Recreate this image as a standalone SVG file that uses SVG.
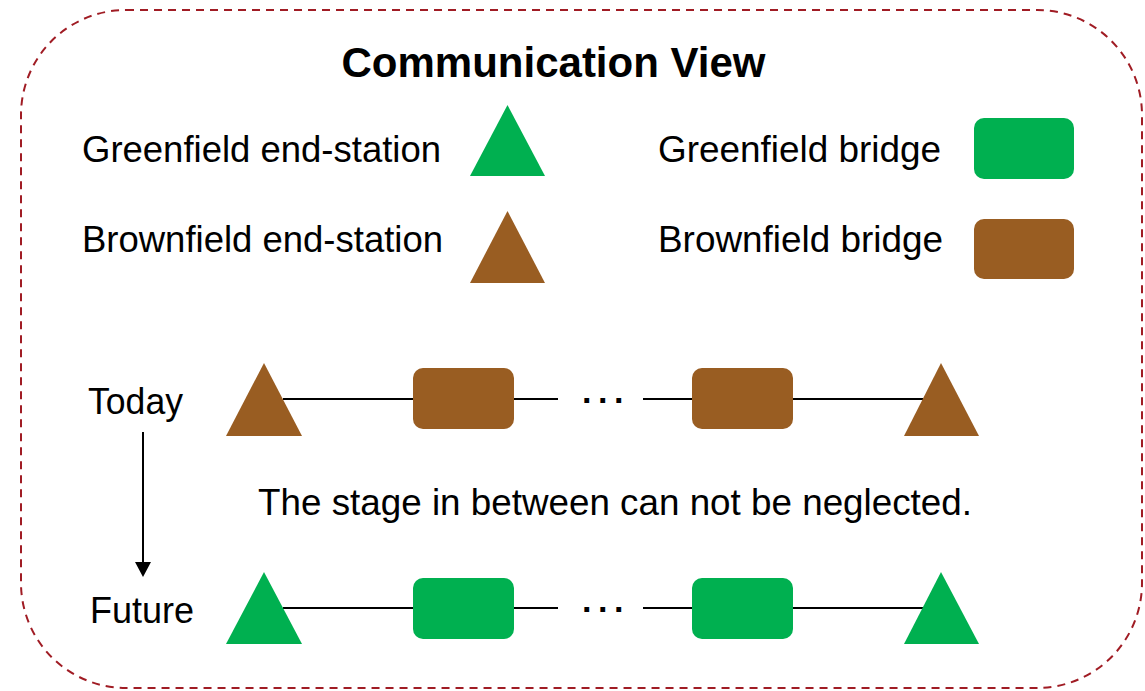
<svg xmlns="http://www.w3.org/2000/svg" width="1145" height="691" viewBox="0 0 1145 691">
  <style>
    .frame { fill: none; stroke: #A01C24; stroke-width: 2; stroke-dasharray: 8 6; }
    .label { font-family: "Liberation Sans", Arial, sans-serif; font-size: 37px; fill: #000; }
    .title { font-family: "Liberation Sans", Arial, sans-serif; font-size: 42px; font-weight: bold; fill: #000; }
    .dots { font-family: "Liberation Sans", Arial, sans-serif; font-size: 34px; font-weight: bold; fill: #000; letter-spacing: 4.7px; }
    .green { fill: #00B050; }
    .brown { fill: #995D22; }
    .link { stroke: #000; stroke-width: 2; fill: none; }
  </style>
  <defs>
    <marker id="arrowhead" markerWidth="16" markerHeight="16" refX="0" refY="0" orient="auto-start-reverse" markerUnits="userSpaceOnUse" viewBox="0 -8 16 16">
      <path d="M0,-8 L15,0 L0,8 Z" fill="#000"/>
    </marker>
  </defs>

  <rect width="1145" height="691" fill="#fff"/>

  <!-- dashed outline -->
  <rect class="frame" x="21" y="10" width="1121" height="678" rx="105" ry="105"/>

  <text class="title" x="553.5" y="77" text-anchor="middle">Communication View</text>

  <!-- legend -->
  <g id="legend-greenfield-end-station">
    <text class="label" x="82" y="162" textLength="359" lengthAdjust="spacingAndGlyphs">Greenfield end-station</text>
    <polygon class="green" points="507.5,105 470,176 545,176"/>
  </g>
  <g id="legend-brownfield-end-station">
    <text class="label" x="82" y="252" textLength="361" lengthAdjust="spacingAndGlyphs">Brownfield end-station</text>
    <polygon class="brown" points="507.5,211 470,283 545,283"/>
  </g>
  <g id="legend-greenfield-bridge">
    <text class="label" x="658" y="162" textLength="283" lengthAdjust="spacingAndGlyphs">Greenfield bridge</text>
    <rect class="green" x="974" y="118" width="100" height="61" rx="10"/>
  </g>
  <g id="legend-brownfield-bridge">
    <text class="label" x="658" y="252" textLength="285" lengthAdjust="spacingAndGlyphs">Brownfield bridge</text>
    <rect class="brown" x="974" y="219" width="100" height="60" rx="10"/>
  </g>

  <!-- connectors -->
  <g id="connectors">
    <line class="link" x1="283" y1="399" x2="413" y2="399"/>
    <line class="link" x1="514" y1="399" x2="558" y2="399"/>
    <line class="link" x1="643" y1="399" x2="692" y2="399"/>
    <line class="link" x1="793" y1="399" x2="923" y2="399"/>
    <line class="link" x1="283" y1="608" x2="413" y2="608"/>
    <line class="link" x1="514" y1="608" x2="558" y2="608"/>
    <line class="link" x1="643" y1="608" x2="692" y2="608"/>
    <line class="link" x1="793" y1="608" x2="923" y2="608"/>
    <line class="link" x1="143" y1="432" x2="143" y2="562" marker-end="url(#arrowhead)"/>
  </g>

  <!-- today row -->
  <text class="label" x="88" y="414" textLength="95" lengthAdjust="spacingAndGlyphs">Today</text>
  <g id="today-end-station-left"><polygon class="brown" points="264,363 226,436 302,436"/></g>
  <g id="today-bridge-1"><rect class="brown" x="413" y="368" width="101" height="61" rx="10"/></g>
  <text class="dots" x="582" y="412">···</text>
  <g id="today-bridge-2"><rect class="brown" x="692" y="368" width="101" height="61" rx="10"/></g>
  <g id="today-end-station-right"><polygon class="brown" points="941,363 904,436 979,436"/></g>

  <text class="label" x="258" y="515" textLength="714" lengthAdjust="spacingAndGlyphs">The stage in between can not be neglected.</text>

  <!-- future row -->
  <text class="label" x="90" y="623" textLength="104" lengthAdjust="spacingAndGlyphs">Future</text>
  <g id="future-end-station-left"><polygon class="green" points="264,572 226,644 302,644"/></g>
  <g id="future-bridge-1"><rect class="green" x="413" y="578" width="101" height="61" rx="10"/></g>
  <text class="dots" x="582" y="621">···</text>
  <g id="future-bridge-2"><rect class="green" x="692" y="578" width="101" height="61" rx="10"/></g>
  <g id="future-end-station-right"><polygon class="green" points="941,572 904,644 979,644"/></g>
</svg>
